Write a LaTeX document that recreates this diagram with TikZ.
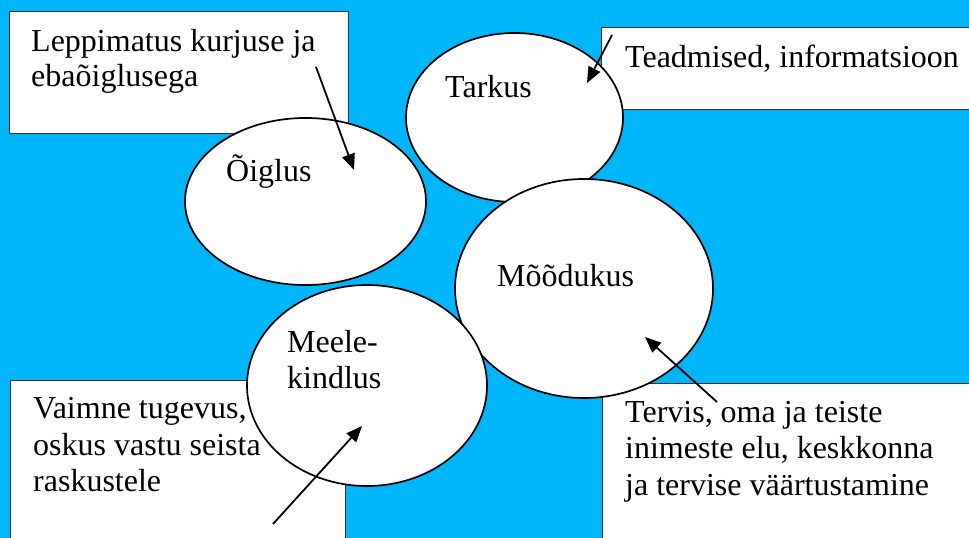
\documentclass[tikz,border=0pt]{standalone}
\usepackage{fontspec}
\setmainfont{Liberation Serif}
\usetikzlibrary{shapes.geometric,arrows.meta}
\definecolor{skyblue}{RGB}{0,182,250}
\tikzset{
  infobox/.style={draw=black!80, line width=0.9pt, fill=white},
  oval/.style={ellipse, draw=black, line width=1.7pt, fill=white, inner sep=0pt},
  txt/.style={anchor=base west, inner sep=0pt, font=\fontsize{32}{36}\selectfont},
  pointer/.style={line width=1.8pt, -{Triangle[length=16pt,width=13pt]}}
}
\begin{document}
\begin{tikzpicture}[x=1pt,y=-1pt]
\useasboundingbox (0,0) rectangle (969,538);
\clip (0,0) rectangle (969,538);
\fill[skyblue] (0,0) rectangle (969,538);
% boxes
\draw[infobox] (9,11) rectangle (348,133);
\draw[infobox] (601,27) rectangle (980,109);
\draw[infobox] (10,380) rectangle (345,560);
\draw[infobox] (602,383) rectangle (980,560);
% ellipses
\node[oval, minimum width=217pt, minimum height=169pt] (tarkus) at (514.5,117.5) {};
\node[oval, minimum width=241pt, minimum height=167pt] (oiglus) at (305.5,201.5) {};
\node[oval, minimum width=258pt, minimum height=219pt] (moodukus) at (584,288.5) {};
\node[oval, minimum width=240pt, minimum height=201pt] (meele) at (367,385.5) {};
% ellipse labels
\node[txt] (ltarkus) at (445,97) {Tarkus};
\node[txt] (loiglus) at (226,181) {Õiglus};
\node[txt] (lmood) at (497,286) {Mõõdukus};
\node[txt] (lmeele1) at (287,352) {Meele-};
\node[txt] (lmeele2) at (287,388) {kindlus};
% box texts
\node[txt] (tl1) at (31,51) {Leppimatus kurjuse ja};
\node[txt] (tl2) at (31,86) {ebaõiglusega};
\node[txt] (tr1) at (625,67) {Teadmised, informatsioon};
\node[txt] (bl1) at (33,418) {Vaimne tugevus,};
\node[txt] (bl2) at (33,455) {oskus vastu seista};
\node[txt] (bl3) at (33,491) {raskustele};
\node[txt] (br1) at (625,422) {Tervis, oma ja teiste};
\node[txt] (br2) at (625,458) {inimeste elu, keskkonna};
\node[txt] (br3) at (625,495) {ja tervise väärtustamine};
% arrow ends
\coordinate (a1s) at (316,67);  \coordinate (a1e) at (354,170);
\coordinate (a2s) at (612,35);  \coordinate (a2e) at (587,83);
\coordinate (a3s) at (273,524); \coordinate (a3e) at (362,426);
\coordinate (a4s) at (717,402); \coordinate (a4e) at (645,337);
\draw[pointer] (a1s) -- (a1e);
\draw[pointer] (a2s) -- (a2e);
\draw[pointer] (a3s) -- (a3e);
\draw[pointer] (a4s) -- (a4e);
\end{tikzpicture}
\end{document}
